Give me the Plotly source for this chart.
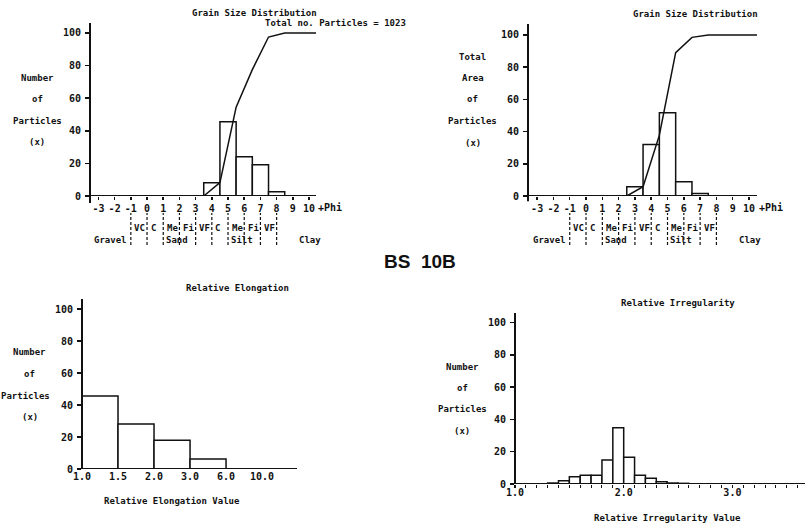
import plotly.graph_objects as go

# ---------------- data ----------------
phi_tick_vals = list(range(-3, 11))
phi_tick_text = [str(v) for v in phi_tick_vals]

count_phi = [4, 5, 6, 7, 8]
count_pct = [8.2, 45.6, 24.0, 19.2, 2.6]
count_cum_phi = [3.5, 4.5, 5.5, 6.5, 7.5, 8.5, 10.45]
count_cum_pct = [0, 8.2, 54.5, 77.5, 97.5, 100, 100]

area_phi = [3, 4, 5, 6, 7]
area_pct = [5.8, 32.0, 51.7, 8.9, 1.6]
area_cum_phi = [2.5, 3.5, 4.5, 5.5, 6.5, 7.5, 10.5]
area_cum_pct = [0, 5.8, 37.8, 89.0, 98.5, 100, 100]

class_names = ["VC", "C", "Me", "Fi", "VF", "C", "Me", "Fi", "VF"]
class_start = [-1, 0, 1, 2, 3, 4, 5, 6, 7]
divider_phi = [-1, 0, 1, 2, 3, 4, 5, 6, 7, 8]
group_names = ["Sand", "Silt", "Clay"]
group_start = [1, 5, 9.2]

elong_edge_labels = ["1.0", "1.5", "2.0", "3.0", "6.0", "10.0"]
elong_pct = [45.6, 28.1, 17.9, 6.2, 0]

irreg_bin_start = [1.3, 1.4, 1.5, 1.6, 1.7, 1.8, 1.9, 2.0, 2.1, 2.2, 2.3, 2.4, 2.5]
irreg_pct = [0.6, 2.0, 4.5, 5.4, 5.4, 14.9, 34.8, 16.5, 5.4, 3.5, 1.4, 0.6, 0.4]
irreg_ticks = [1.0, 2.0, 3.0]

y_ticks = [0, 20, 40, 60, 80, 100]

# ---------------- layout helpers ----------------
W, H = 809, 531
MONO = "DejaVu Sans Mono"
INK = "#111111"


def fx(p):
    return p / W


def fy(p):
    return 1 - p / H


def text(s, x, y, anchor="center", size=9, font=MONO, weight="bold", xref="paper"):
    return dict(text=s, x=(fx(x) if xref == "paper" else x), y=fy(y), xref=xref, yref="paper",
                xanchor=anchor, yanchor="middle", showarrow=False,
                font=dict(family=font, size=size, color=INK, weight=weight))


tickfont = dict(family=MONO, size=10, color=INK, weight="bold")

fig = go.Figure()

bar_style = dict(marker=dict(color="white", line=dict(color=INK, width=1.5)), showlegend=False,
                 hoverinfo="skip")
line_style = dict(mode="lines", line=dict(color=INK, width=1.5), showlegend=False, hoverinfo="skip")

# top-left: count distribution
fig.add_trace(go.Bar(x=count_phi, y=count_pct, width=1, xaxis="x", yaxis="y", **bar_style))
fig.add_trace(go.Scatter(x=count_cum_phi, y=count_cum_pct, xaxis="x", yaxis="y", **line_style))
# top-right: area distribution
fig.add_trace(go.Bar(x=area_phi, y=area_pct, width=1, xaxis="x2", yaxis="y2", **bar_style))
fig.add_trace(go.Scatter(x=area_cum_phi, y=area_cum_pct, xaxis="x2", yaxis="y2", **line_style))
# bottom-left: elongation
fig.add_trace(go.Bar(x=[i + 0.5 for i in range(len(elong_pct))], y=elong_pct, width=1,
                     xaxis="x3", yaxis="y3", **bar_style))
# bottom-right: irregularity
fig.add_trace(go.Bar(x=[s + 0.05 for s in irreg_bin_start], y=irreg_pct, width=0.1,
                     xaxis="x4", yaxis="y4", **bar_style))


def xax(dom, rng, anchor, **kw):
    d = dict(domain=[fx(dom[0]), fx(dom[1])], range=rng, anchor=anchor, showline=False,
             showgrid=False, zeroline=False, ticks="outside", automargin=False,
             ticklen=3, tickwidth=1.5, tickcolor=INK, tickfont=tickfont, fixedrange=True)
    d.update(kw)
    return d


def yax(dom, rng, anchor, **kw):
    d = dict(domain=[fy(dom[1]), fy(dom[0])], range=rng, anchor=anchor, showline=False,
             showgrid=False, zeroline=False, ticks="outside", automargin=False,
             ticklen=4, tickwidth=1.5, tickcolor=INK, tickfont=tickfont, tickvals=y_ticks,
             ticktext=[str(v) for v in y_ticks], fixedrange=True, ticklabelstandoff=2)
    d.update(kw)
    return d


layout = dict(
    template="none",
    width=W, height=H, margin=dict(l=0, r=0, t=0, b=0, pad=0), autosize=False,
    paper_bgcolor="white", plot_bgcolor="white", bargap=0, showlegend=False,
    xaxis=xax([90, 316], [-3.52, 10.43], "y", tickvals=phi_tick_vals, ticktext=phi_tick_text),
    yaxis=yax([23, 196], [0, 106.1], "x"),
    xaxis2=xax([528, 757], [-3.56, 10.49], "y2", tickvals=phi_tick_vals, ticktext=phi_tick_text),
    yaxis2=yax([24, 196], [0, 106.8], "x2"),
    xaxis3=xax([82, 297], [0, 5.97], "y3", tickvals=list(range(len(elong_edge_labels))),
               ticktext=elong_edge_labels, ticks="", ticklabelstandoff=0),
    yaxis3=yax([299, 469], [0, 106.25], "x3"),
    xaxis4=xax([515, 805], [1.0, 3.668], "y4", tickvals=irreg_ticks,
               ticktext=[f"{v:.1f}" for v in irreg_ticks], ticklabelstandoff=-4,
               minor=dict(dtick=0.1, tick0=1.0, ticks="outside", ticklen=3, tickcolor=INK,
                          tickwidth=1, showgrid=False)),
    yaxis4=yax([313, 484], [0, 105.9], "x4"),
)

shapes = []
# axis lines drawn exactly at the axis origins
for xr, yr, ext in [("x", "y", 4), ("x2", "y2", 3), ("x3", "y3", 0), ("x4", "y4", 0)]:
    shapes.append(dict(type="line", xref=f"{xr} domain", yref=yr, x0=0, x1=1, y0=0, y1=0,
                       line=dict(color=INK, width=2)))
    shapes.append(dict(type="line", xref=f"{xr} domain", yref=f"{yr} domain", x0=0, x1=0,
                       y0=-ext / 100, y1=1, line=dict(color=INK, width=2)))

anns = []
# titles
anns.append(text("Grain Size Distribution", 255, 13))
anns.append(text("Total no. Particles = 1023", 263, 23, anchor="left"))
anns.append(text("Grain Size Distribution", 695, 14))
anns.append(text("Relative Elongation", 237, 288))
anns.append(text("Relative Irregularity", 678, 303))
anns.append(text("Relative Elongation Value", 172, 501))
anns.append(text("Relative Irregularity Value", 667, 518))
anns.append(text("BS\u00a0\u00a010B", 420, 261, size=19, font="Liberation Sans"))

# y axis titles
for s, y in [("Number", 78), ("of", 99), ("Particles", 121), ("(x)", 142)]:
    anns.append(text(s, 37, y))
for s, y in [("Total", 57), ("Area", 78), ("of", 99), ("Particles", 121), ("(x)", 143)]:
    anns.append(text(s, 473, y))
for s, y in [("Number", 352), ("of", 374), ("(x)", 417)]:
    anns.append(text(s, 30, y))
anns.append(text("Particles", 52, 396, anchor="right"))
for s, y in [("Number", 367), ("of", 388), ("Particles", 409), ("(x)", 431)]:
    anns.append(text(s, 462, y))

# +Phi labels
anns.append(text("+Phi", 330, 207, size=10))
anns.append(text("+Phi", 771, 207, size=10))

# class labels under the phi axes
for xr in ["x", "x2"]:
    for p in divider_phi:
        shapes.append(dict(type="line", xref=xr, yref="paper", x0=p, x1=p, y0=fy(245), y1=fy(213),
                           line=dict(color=INK, width=1.2, dash="3px,2px")))
    for s, p in zip(class_names, class_start):
        anns.append(text(s, p + 0.1, 228, anchor="left", xref=xr))
    anns.append(text("Gravel", -1.1, 240, anchor="right", xref=xr))
    for s, p in zip(group_names, group_start):
        anns.append(text(s, p + 0.05, 240, anchor="left", xref=xr))

layout["annotations"] = anns
layout["shapes"] = shapes
fig.update_layout(**layout)

fig.write_html("out.html", config={"displayModeBar": False, "staticPlot": True},
               post_script="document.body.style.margin='0';")
